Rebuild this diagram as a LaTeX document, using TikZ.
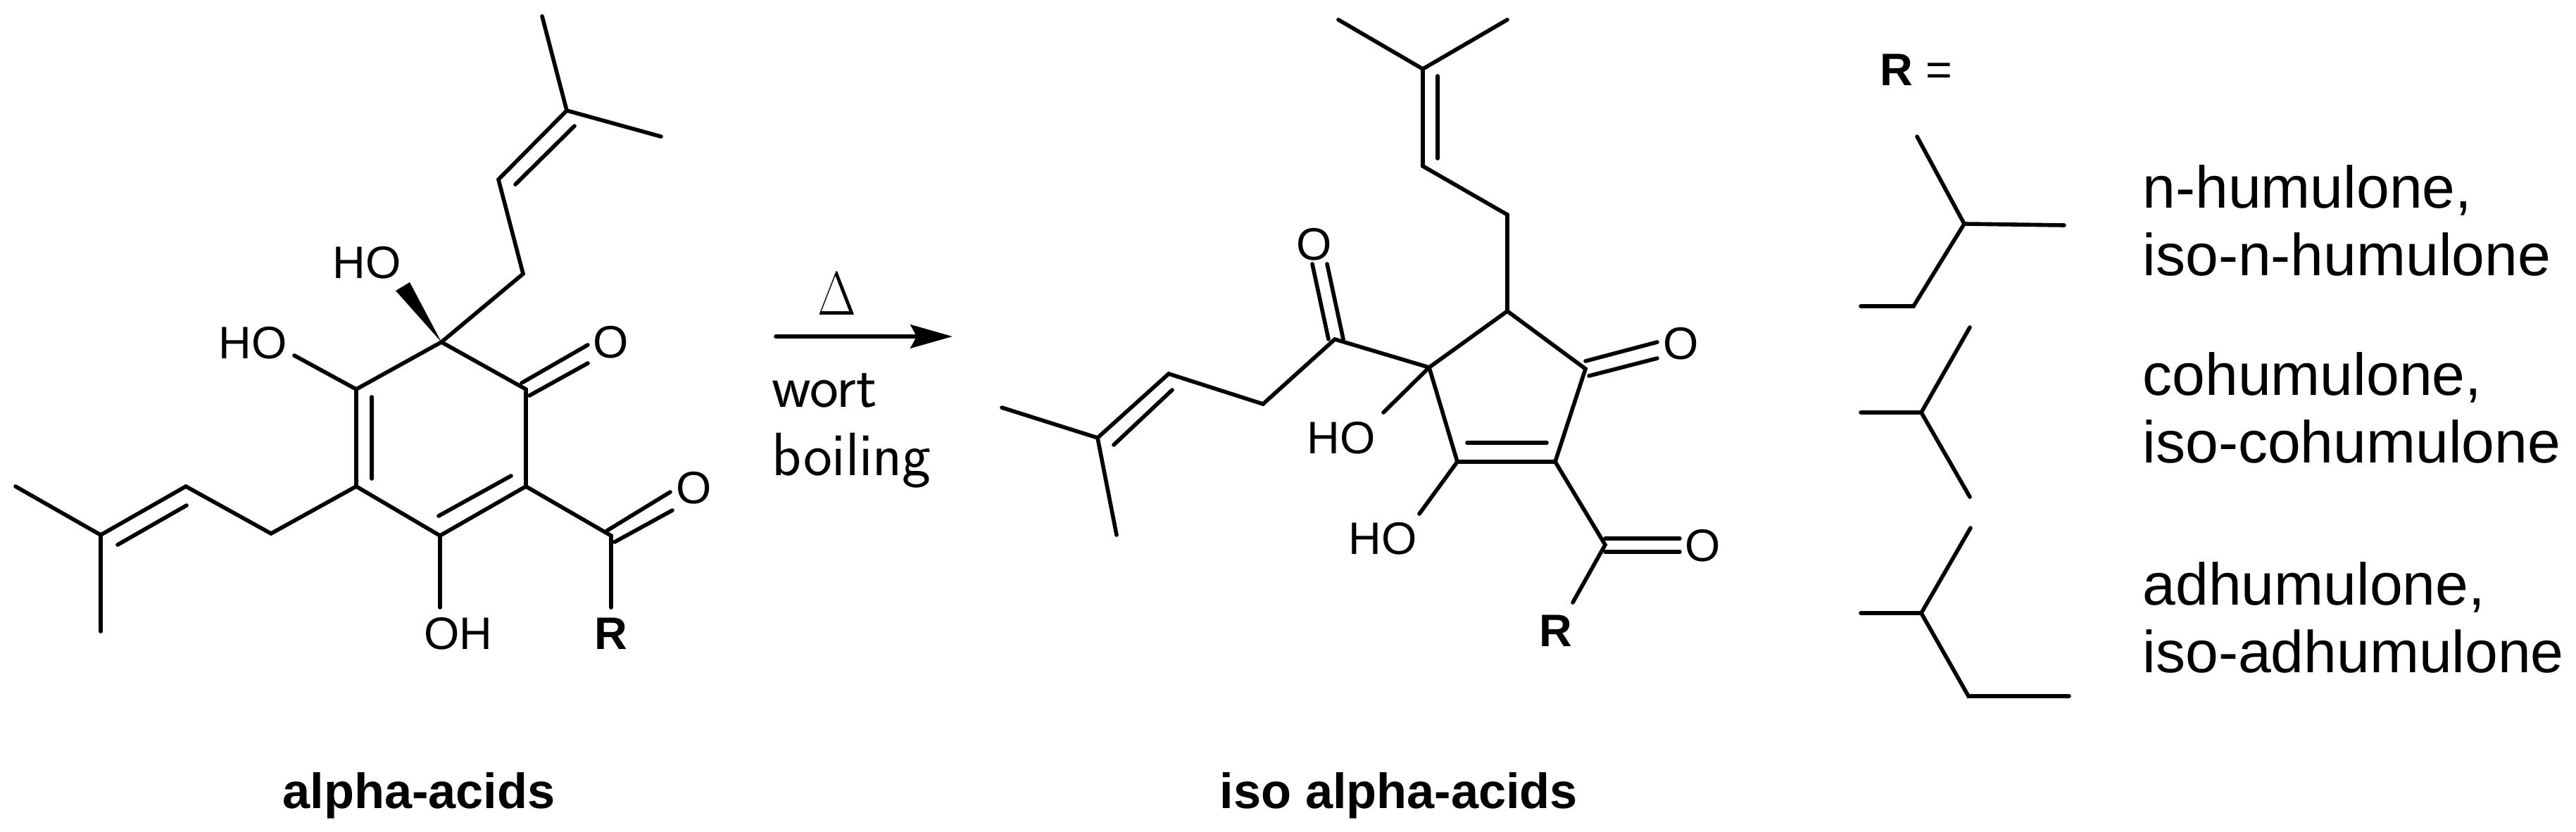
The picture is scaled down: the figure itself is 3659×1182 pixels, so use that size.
\documentclass[tikz,border=0pt]{standalone}
\usepackage{fontspec}
\setmainfont{Liberation Sans}
\usetikzlibrary{arrows.meta}
\tikzset{
    bond/.style={line width=1.6pt, line cap=round, line join=miter},
    atom/.style={inner sep=0pt, font=\fontsize{18.4}{22}\selectfont},
    ratom/.style={atom, font=\fontsize{18.4}{22}\selectfont\bfseries},
    title/.style={inner sep=0pt, font=\fontsize{20}{24}\selectfont\bfseries},
    cond/.style={inner sep=0pt, anchor=base west, font=\fontsize{24.7}{28}\selectfont\sffamily},
    rname/.style={inner sep=0pt, anchor=base west, font=\fontsize{23.9}{28}\selectfont}
}
\begin{document}
\begin{tikzpicture}[x=0.01cm, y=-0.01cm]
    \useasboundingbox (0,0) rectangle (3659,1182);

    % Molecule 1
    \foreach \n/\x/\y in {
        ra/627/486, rb/747/553, rc/747/691, rd/625/761, re/506/691, rf/506/553,
        ta/743/389, tb/708/255, tc/805/157, td/770/23, te/939/194,
        tf/732/262, tg/816/179,
        la/385/758, lb/264/691, lc/143/760, ld/22/691, le/143/897,
        lf/167/774, lg/265/718,
        ia/528/564, ib/528/680, ic/623/733, id/726/676,
        wa/562/413, wb/582/401,
        ha/418/505, oa/625/863,
        ca/741/544, cb/835/490, cc/752/562, cd/835/516,
        ka/868/761, kb/862/754, kc/952/699, kd/873/770, ke/955/725, kf/868/863
    } {
        \coordinate (\n) at (\x,\y);
    }
    \draw[bond] (ra) -- (rb) -- (rc) -- (rd) -- (re) -- (rf) -- cycle;
    \draw[bond] (ra) -- (ta) -- (tb) -- (tc) -- (td);
    \draw[bond] (tc) -- (te);
    \draw[bond] (tf) -- (tg);
    \draw[bond] (re) -- (la) -- (lb) -- (lc) -- (ld);
    \draw[bond] (lc) -- (le);
    \draw[bond] (lf) -- (lg);
    \draw[bond] (ia) -- (ib);
    \draw[bond] (ic) -- (id);
    \fill (ra) -- (wa) -- (wb) -- cycle;
    \draw[bond] (rf) -- (ha);
    \draw[bond] (rd) -- (oa);
    \draw[bond] (ca) -- (cb);
    \draw[bond] (cc) -- (cd);
    \draw[bond] (rc) -- (ka) -- (kf);
    \draw[bond] (kb) -- (kc);
    \draw[bond] (kd) -- (ke);
    \node[atom] (hoa) at (521,373) {HO};
    \node[atom] (hob) at (359,487) {HO};
    \node[atom] (ona) at (868,486) {O};
    \node[atom] (onb) at (986,693) {O};
    \node[atom] (oha) at (651,900) {OH};
    \node[ratom] (ra1) at (868,900) {R};
    \node[title] (acid) at (595,1130) {alpha-acids};

    % Arrow
    \coordinate (aa) at (1102,478);
    \coordinate (ab) at (1353,478);
    \draw[bond, -{Stealth[length=17pt, width=9.5pt, inset=2.5pt]}] (aa) -- (ab);
    \node[inner sep=0pt, xscale=.97, yscale=1.2, font=\fontsize{22.2}{26}\selectfont] (heat) at (1189,418) {$\Delta$};
    \node[cond] (wort) at (1096,578) {wort};
    \node[cond] (boil) at (1096,675) {boiling};

    % Molecule 2
    \foreach \n/\x/\y in {
        sa/2141/442, sb/2252/524, sc/2209/656, sd/2070/656, se/2030/522,
        ua/2141/305, ub/2021/236, uc/2021/98, ud/1901/28, ue/2141/28,
        uf/2042/108, ug/2042/225,
        ma/1896/482, mb/1794/574, mc/1660/531, md/1559/622, me/1423/579, mf/1586/760,
        mg/1582/632, mh/1665/554,
        na/1887/482, nb/1864/375, nc/1908/482, nd/1885/375,
        pa/2252/513, pb/2354/486, pc/2257/534, pd/2354/509,
        va/2084/629, vb/2197/629,
        qa/2016/730, qb/1965/586,
        xa/2280/774, xb/2234/856,
        ya/2280/765, yb/2386/765, yc/2280/784, yd/2386/784
    } {
        \coordinate (\n) at (\x,\y);
    }
    \draw[bond] (sa) -- (sb) -- (sc) -- (sd) -- (se) -- cycle;
    \draw[bond] (sa) -- (ua) -- (ub) -- (uc) -- (ud);
    \draw[bond] (uc) -- (ue);
    \draw[bond] (uf) -- (ug);
    \draw[bond] (se) -- (ma) -- (mb) -- (mc) -- (md) -- (me);
    \draw[bond] (md) -- (mf);
    \draw[bond] (mg) -- (mh);
    \draw[bond] (na) -- (nb);
    \draw[bond] (nc) -- (nd);
    \draw[bond] (pa) -- (pb);
    \draw[bond] (pc) -- (pd);
    \draw[bond] (va) -- (vb);
    \draw[bond] (sd) -- (qa);
    \draw[bond] (se) -- (qb);
    \draw[bond] (sc) -- (xa) -- (xb);
    \draw[bond] (ya) -- (yb);
    \draw[bond] (yc) -- (yd);
    \node[atom] (onc) at (1867,347) {O};
    \node[atom] (ond) at (2388,488) {O};
    \node[atom] (one) at (2419,775) {O};
    \node[atom] (hoc) at (1905,622) {HO};
    \node[atom] (hod) at (1964,765) {HO};
    \node[ratom] (ra2) at (2210,896) {R};
    \node[title] (isoacid) at (1987,1130) {iso alpha-acids};

    % Groups R
    \node[atom, anchor=west] (rdef) at (2670,99) {\textbf{R} =};
    \foreach \n/\x/\y in {
        fa/2723/194, fb/2790/318, fc/2932/320, fd/2718/435, fe/2643/435,
        ga/2798/465, gb/2729/586, gc/2643/586, gd/2798/706,
        ja/2799/750, jb/2729/871, jc/2643/871, jd/2796/989, je/2939/989
    } {
        \coordinate (\n) at (\x,\y);
    }
    \draw[bond] (fa) -- (fb) -- (fc);
    \draw[bond] (fb) -- (fd) -- (fe);
    \draw[bond] (ga) -- (gb) -- (gc);
    \draw[bond] (gb) -- (gd);
    \draw[bond] (ja) -- (jb) -- (jc);
    \draw[bond] (jb) -- (jd) -- (je);
    \foreach \n/\y/\val in {
        humua/295/{n-humulone,},
        humub/391/iso-n-humulone,
        cohua/561/{cohumulone,},
        cohub/657/iso-cohumulone,
        adhua/859/{adhumulone,},
        adhub/955/iso-adhumulone
    } {
        \node[rname] (\n) at (3043,\y) {\val};
    }
\end{tikzpicture}
\end{document}
